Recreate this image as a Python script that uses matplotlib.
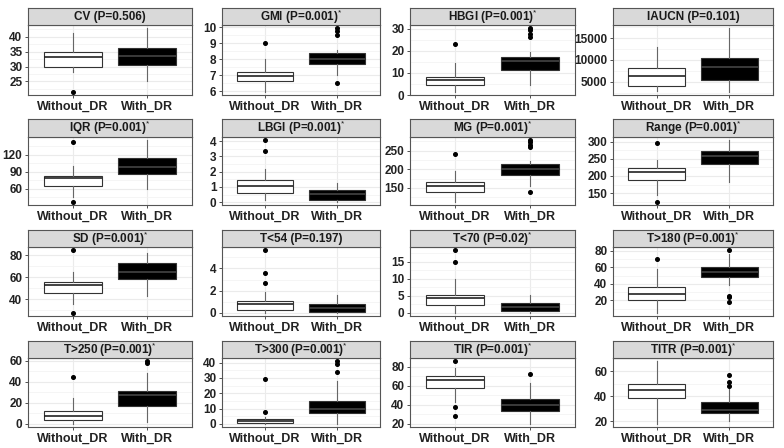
import matplotlib
matplotlib.use('Agg')
import matplotlib.pyplot as plt

plt.rcParams['font.family'] = ['Liberation Sans', 'DejaVu Sans']
plt.rcParams['mathtext.fontset'] = 'custom'
plt.rcParams['mathtext.rm'] = 'Liberation Sans'

groups = ['Without_DR', 'With_DR']
metrics = ['CV', 'GMI', 'HBGI', 'IAUCN', 'IQR', 'LBGI', 'MG', 'Range',
           'SD', 'T<54', 'T<70', 'T>180', 'T>250', 'T>300', 'TIR', 'TITR']
p_values = ['0.506', '0.001', '0.001', '0.101', '0.001', '0.001', '0.001', '0.001',
            '0.001', '0.197', '0.02', '0.001', '0.001', '0.001', '0.001', '0.001']
significant = [False, True, True, False, True, True, True, True,
               True, False, True, True, True, True, True, True]

# box stats, Without_DR: lower whisker, Q1, median, Q3, upper whisker
lo_wo = [28.2, 5.97, 1.5, 2930, 45.7, 0.15, 112.7, 143.5, 35.8, 0, 0, 5, 0, 0, 43, 18]
q1_wo = [30, 6.65, 4.5, 4080, 64.6, 0.62, 138.8, 189.4, 45.5, 0.3, 2.2, 21, 3.4, 0.6, 58, 38.5]
med_wo = [33.2, 6.94, 6.8, 6270, 78.3, 1.06, 156, 212, 53, 0.77, 4.35, 28, 7, 1.7, 66, 45]
q3_wo = [35, 7.23, 8.2, 8230, 82.9, 1.42, 164.6, 224.4, 55.5, 1.03, 5.3, 36, 12, 3, 70, 49.5]
hi_wo = [41.2, 8.02, 14.3, 12930, 100, 2.16, 195.8, 248, 64.5, 1.92, 9.9, 57.8, 25, 4.6, 79, 68]
out_wo = [[21.5], [9.05], [23.2], [], [141.7, 37], [4.06, 3.35], [241.4], [297, 124.4],
          [84.8, 27.6], [5.65, 3.58, 2.69], [18.4, 15], [70.7], [44], [8, 29.6],
          [86, 38, 28], []]

# box stats, With_DR
lo_w = [25, 7.05, 4.5, 2700, 59.1, 0.02, 156, 181.5, 43, 0, 0, 39, 2, 0, 20, 20]
q1_w = [30.5, 7.68, 11.3, 5390, 86, 0.15, 184.9, 235.5, 58.5, 0.09, 0.6, 48.5, 17, 7, 34, 27]
med_w = [33.5, 8.05, 15.2, 8460, 98.6, 0.55, 200, 259, 65, 0.4, 1.8, 55, 27, 10, 40, 29]
q3_w = [36.4, 8.37, 17.2, 10530, 114.3, 0.79, 213.6, 273.4, 72.7, 0.77, 3.0, 60.7, 31, 15, 46, 35.5]
hi_w = [42.9, 8.6, 19.7, 17250, 145.7, 1.28, 221.4, 304.7, 82.4, 1.65, 5.3, 76.8, 48, 28, 63, 46]
out_w = [[], [9.95, 9.8, 9.55, 6.55], [30.3, 29.3, 27.8, 26.3], [], [], [],
         [277.9, 271.9, 265.6, 258.9, 138.8], [], [], [], [], [81, 26, 24.5, 18],
         [58, 59.5], [41, 39, 33.7], [72], [57, 51.5, 48]]

y_ticks = [[25, 30, 35, 40], [6, 7, 8, 9, 10], [0, 10, 20, 30], [5000, 10000, 15000],
           [60, 90, 120], [0, 1, 2, 3, 4], [150, 200, 250], [150, 200, 250, 300],
           [40, 60, 80], [0, 2, 4], [0, 5, 10, 15], [20, 40, 60, 80],
           [0, 20, 40, 60], [0, 10, 20, 30, 40], [20, 40, 60, 80], [20, 40, 60]]

W, H = 784, 448
col_left = [28, 222, 410, 613]
col_right = [192, 380, 575, 773]
strip_top = [8, 119, 230, 341]
panel_top = [25, 137, 247, 358]
panel_bot = [95, 205, 316, 427]

border = '#555555'
fig = plt.figure(figsize=(W / 100, H / 100), dpi=100)

for i, name in enumerate(metrics):
    r, c = divmod(i, 4)
    L, R = col_left[c], col_right[c]
    ax = fig.add_axes([L / W, 1 - panel_bot[r] / H, (R - L) / W,
                       (panel_bot[r] - panel_top[r]) / H])
    st = fig.add_axes([L / W, 1 - panel_top[r] / H, (R - L) / W,
                       (panel_top[r] - strip_top[r]) / H])

    stats = [
        dict(whislo=lo_wo[i], q1=q1_wo[i], med=med_wo[i], q3=q3_wo[i],
             whishi=hi_wo[i], fliers=out_wo[i]),
        dict(whislo=lo_w[i], q1=q1_w[i], med=med_w[i], q3=q3_w[i],
             whishi=hi_w[i], fliers=out_w[i]),
    ]
    b = ax.bxp(stats, positions=[1, 2], widths=0.78, patch_artist=True,
               showcaps=False,
               boxprops=dict(edgecolor='#333333', linewidth=0.8),
               whiskerprops=dict(color='#666666', linewidth=0.8),
               medianprops=dict(linewidth=1.2),
               flierprops=dict(marker='o', markerfacecolor='black',
                               markeredgecolor='black', markersize=2.6))
    b['boxes'][0].set_facecolor('white')
    b['boxes'][1].set_facecolor('black')
    b['medians'][0].set_color('#222222')
    b['medians'][1].set_color('#444444')
    for art in b['boxes'] + b['medians'] + b['whiskers'] + b['fliers']:
        art.set_zorder(3)

    vals = [lo_wo[i], hi_wo[i], lo_w[i], hi_w[i]] + out_wo[i] + out_w[i]
    vmin, vmax = min(vals), max(vals)
    pad = (vmax - vmin) * 0.05
    ax.set_ylim(vmin - pad, vmax + pad)
    ax.set_xlim(0.4, 2.6)

    ticks = y_ticks[i]
    step = ticks[1] - ticks[0]
    minor = [t - step / 2 for t in ticks] + [ticks[-1] + step / 2]
    minor = [m for m in minor if vmin - pad <= m <= vmax + pad]
    ax.set_yticks(ticks)
    ax.set_yticklabels([str(t) for t in ticks])
    ax.set_yticks(minor, minor=True)
    ax.set_xticks([1, 2])
    ax.set_xticklabels(groups)

    ax.grid(True, which='major', color='#EBEBEB', linewidth=0.8, zorder=0)
    ax.grid(True, which='minor', axis='y', color='#F2F2F2', linewidth=0.5, zorder=0)
    ax.set_axisbelow(True)
    ax.tick_params(which='major', length=2.5, width=0.6, color='#333333',
                   labelsize=8.5, pad=1.5, labelcolor='#222222')
    ax.tick_params(axis='x', labelsize=9)
    ax.tick_params(which='minor', length=0)
    for lab in ax.get_xticklabels() + ax.get_yticklabels():
        lab.set_fontweight('bold')
    for s in ax.spines.values():
        s.set_color(border)
        s.set_linewidth(0.8)

    st.set_facecolor('#D9D9D9')
    st.set_xticks([])
    st.set_yticks([])
    for s in st.spines.values():
        s.set_color(border)
        s.set_linewidth(0.8)
    title = f'{name} (P={p_values[i]})'
    if significant[i]:
        title += '$^{*}$'
    st.text(0.5, 0.48, title, ha='center', va='center', fontsize=8.5,
            fontweight='bold', color='#1a1a1a', transform=st.transAxes)

fig.savefig('out.png', dpi=100)
